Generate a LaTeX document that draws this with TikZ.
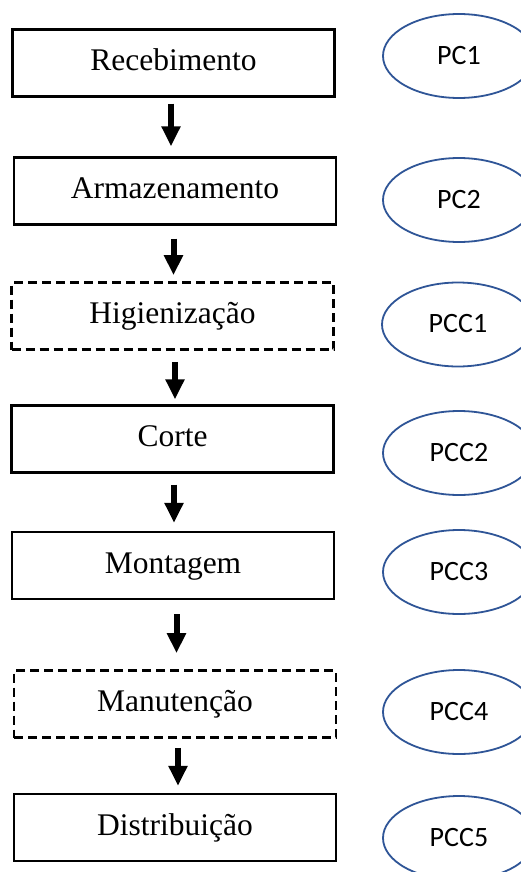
\documentclass[tikz,border=0pt]{standalone}
\usepackage{fontspec}
\setmainfont{Liberation Serif}
\newfontfamily\calib{Carlito}
\usetikzlibrary{arrows.meta,shapes.geometric}
\definecolor{pcblue}{RGB}{47,85,151}
\newcommand{\boxtxt}[1]{\raisebox{-7.5pt}[0pt][0pt]{#1}}
\tikzset{
  stepbox/.style={draw=black, line width=2.2pt, rectangle, minimum width=322pt, minimum height=67pt, inner sep=0pt, font=\fontsize{31.5}{36}\selectfont},
  optbox/.style={stepbox, line width=2.6pt, dash pattern=on 9pt off 5pt},
  pcell/.style={draw=pcblue, line width=1.8pt, ellipse, minimum width=152pt, minimum height=84pt, inner sep=0pt, font=\calib\fontsize{28}{32}\selectfont},
  flow/.style={line width=6pt, -{Triangle[width=18pt,length=20pt]}}
}
\begin{document}
\begin{tikzpicture}[x=1pt,y=-1pt]
\useasboundingbox (0,0) rectangle (521,872);
\clip (0,0) rectangle (521,872);
\fill[white] (0,0) rectangle (521,872);
% process boxes
\node[stepbox] (b1) at (173.5,63) {\boxtxt{Recebimento}};
\node[stepbox] (b2) at (175,191) {\boxtxt{Armazenamento}};
\node[optbox]  (b3) at (172.5,316) {\boxtxt{Higienização}};
\node[stepbox] (b4) at (172.5,439) {\boxtxt{Corte}};
\node[stepbox] (b5) at (173,565.5) {\boxtxt{Montagem}};
\node[optbox]  (b6) at (175,704) {\boxtxt{Manutenção}};
\node[stepbox] (b7) at (175,827.5) {\boxtxt{Distribuição}};
% control points
\node[pcell] (e1) at (459,56) {\raisebox{2pt}{PC1}};
\node[pcell] (e2) at (459,200) {\raisebox{2pt}{PC2}};
\node[pcell] (e3) at (458,324.5) {\raisebox{2pt}{PCC1}};
\node[pcell] (e4) at (459,453) {\raisebox{2pt}{PCC2}};
\node[pcell] (e5) at (459,572) {\raisebox{2pt}{PCC3}};
\node[pcell] (e6) at (459,712) {\raisebox{2pt}{PCC4}};
\node[pcell] (e7) at (459,838) {\raisebox{2pt}{PCC5}};
% arrows
\draw[flow, shorten <=6pt, shorten >=10pt] ([xshift=-2.5pt]b1.south) -- ([xshift=-2.5pt]b1.south |- b2.north);
\draw[flow, shorten <=13pt, shorten >=6pt] ([xshift=-1.5pt]b2.south) -- ([xshift=-1.5pt]b2.south |- b3.north);
\draw[flow, shorten <=11pt, shorten >=5pt] ([xshift=2.5pt]b3.south) -- ([xshift=2.5pt]b3.south |- b4.north);
\draw[flow, shorten <=11pt, shorten >=8pt] ([xshift=1.5pt]b4.south) -- ([xshift=1.5pt]b4.south |- b5.north);
\draw[flow, shorten <=14pt, shorten >=16pt] ([xshift=3.5pt]b5.south) -- ([xshift=3.5pt]b5.south |- b6.north);
\draw[flow, shorten <=9pt, shorten >=7pt] ([xshift=3pt]b6.south) -- ([xshift=3pt]b6.south |- b7.north);
\end{tikzpicture}
\end{document}
